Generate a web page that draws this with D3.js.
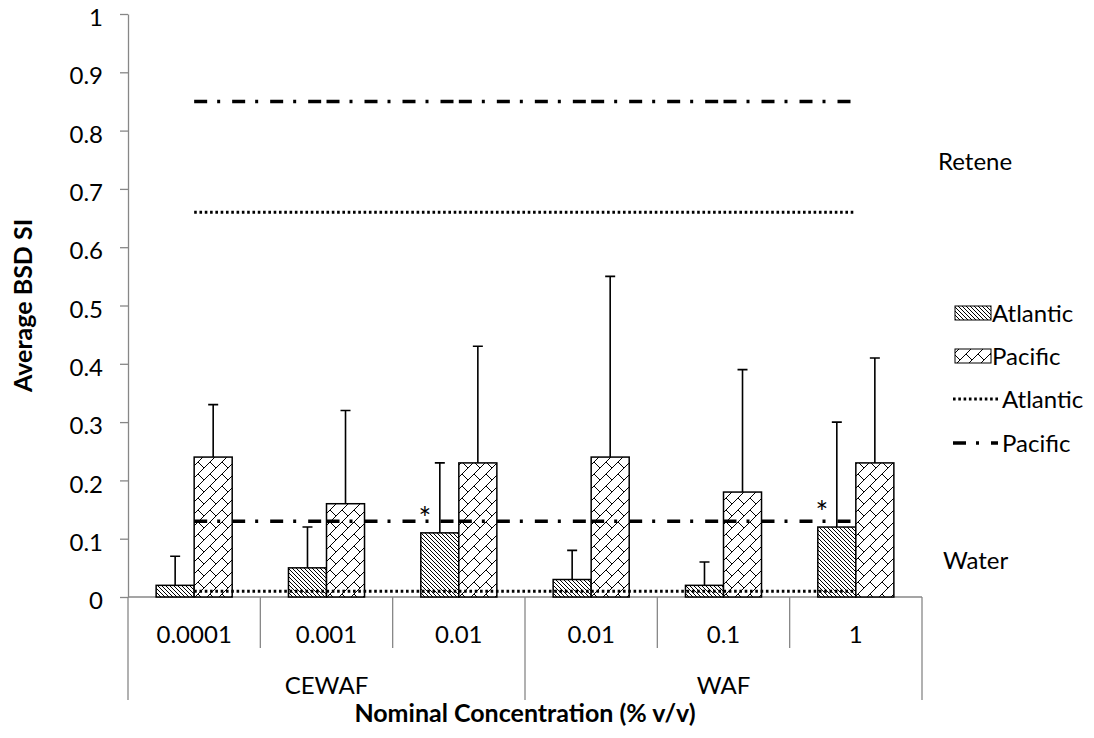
<!DOCTYPE html>
<html>
<head>
<meta charset="utf-8">
<script src="https://cdn.jsdelivr.net/npm/d3@7"></script>
<style>
  body { margin: 0; background: #fff; }
  svg { font-family: Lato, 'Open Sans', sans-serif; }
  text { fill: #000; }
</style>
</head>
<body>
<script>
const concentrations = ['0.0001', '0.001', '0.01', '0.01', '0.1', '1'];
const groupNames = ['CEWAF', 'WAF'];
const groupOf = [0, 0, 0, 1, 1, 1];

const atlantic = [0.02, 0.05, 0.11, 0.03, 0.02, 0.12];
const pacific = [0.24, 0.16, 0.23, 0.24, 0.18, 0.23];
const atlanticErr = [0.05, 0.07, 0.12, 0.05, 0.04, 0.18];
const pacificErr = [0.09, 0.16, 0.20, 0.31, 0.21, 0.18];
const significant = ['', '', '*', '', '', '*'];

// control levels, repeated for each concentration
const reteneAtlantic = [0.66, 0.66, 0.66, 0.66, 0.66, 0.66];
const retenePacific = [0.85, 0.85, 0.85, 0.85, 0.85, 0.85];
const waterAtlantic = [0.01, 0.01, 0.01, 0.01, 0.01, 0.01];
const waterPacific = [0.13, 0.13, 0.13, 0.13, 0.13, 0.13];

const yTicks = [0, 0.1, 0.2, 0.3, 0.4, 0.5, 0.6, 0.7, 0.8, 0.9, 1];

const width = 1094;
const height = 738;
const plot = { left: 128, right: 922, top: 14, bottom: 597 };
const axisGrey = '#878787';
const fontSize = 24;

const svg = d3.select('body')
  .append('svg')
  .attr('width', width)
  .attr('height', height);

// fill patterns
const defs = svg.append('defs');

const hatch = defs.append('pattern')
  .attr('id', 'hatch')
  .attr('patternUnits', 'userSpaceOnUse')
  .attr('width', 4)
  .attr('height', 4);
hatch.append('rect').attr('width', 4).attr('height', 4).attr('fill', '#fff');
hatch.append('path')
  .attr('d', 'M-1,-1 L5,5 M-1,3 L1,5 M3,-1 L5,1')
  .attr('stroke', '#000')
  .attr('stroke-width', 1);

const brick = defs.append('pattern')
  .attr('id', 'brick')
  .attr('patternUnits', 'userSpaceOnUse')
  .attr('width', 12)
  .attr('height', 12);
brick.append('rect').attr('width', 12).attr('height', 12).attr('fill', '#fff');
brick.append('path')
  .attr('d', 'M-1,13 L13,-1 M6,6 L13,13')
  .attr('stroke', '#000')
  .attr('stroke-width', 1);

const xScale = d3.scaleBand()
  .domain(d3.range(concentrations.length))
  .range([plot.left, plot.right]);

const x1 = d3.scaleBand()
  .domain(['Atlantic', 'Pacific'])
  .range([0, xScale.bandwidth()])
  .paddingOuter(0.74);

const yScale = d3.scaleLinear()
  .domain([0, 1])
  .range([plot.bottom, plot.top]);

// y axis
const yAxis = d3.axisLeft(yScale)
  .tickValues(yTicks)
  .tickFormat(d => String(d))
  .tickSize(8)
  .tickSizeOuter(0)
  .tickPadding(17);

const yg = svg.append('g')
  .attr('transform', `translate(${plot.left},0)`)
  .call(yAxis);
yg.selectAll('path, line').attr('stroke', axisGrey).attr('stroke-width', 1.3);
yg.selectAll('text')
  .attr('fill', '#000')
  .attr('y', 4)
  .style('font-size', fontSize + 'px')
  .style('font-family', 'Lato, sans-serif');

// x axis: two-level category axis
const xg = svg.append('g').attr('class', 'x axis');
xg.append('line')
  .attr('x1', plot.left).attr('x2', plot.right)
  .attr('y1', plot.bottom).attr('y2', plot.bottom)
  .attr('stroke', axisGrey).attr('stroke-width', 1.3);

const edges = d3.range(concentrations.length + 1);
xg.selectAll('.divider').data(edges)
  .enter()
  .append('line')
  .attr('class', 'divider')
  .attr('x1', i => i < concentrations.length ? xScale(i) : plot.right)
  .attr('x2', i => i < concentrations.length ? xScale(i) : plot.right)
  .attr('y1', plot.bottom)
  .attr('y2', i => (i === 0 || i === concentrations.length || groupOf[i] !== groupOf[i - 1]) ? 700 : 648)
  .attr('stroke', axisGrey).attr('stroke-width', 1.3);

xg.selectAll('.cat').data(concentrations)
  .enter()
  .append('text')
  .attr('class', 'cat')
  .attr('x', (d, i) => xScale(i) + xScale.bandwidth() / 2)
  .attr('y', 634)
  .attr('dy', '0.36em')
  .style('text-anchor', 'middle')
  .style('font-size', fontSize + 'px')
  .text(d => d);

xg.selectAll('.grp').data(groupNames)
  .enter()
  .append('text')
  .attr('class', 'grp')
  .attr('x', (d, g) => {
    const idx = groupOf.map((v, i) => v === g ? i : -1).filter(i => i >= 0);
    return (xScale(idx[0]) + xScale(idx[idx.length - 1]) + xScale.bandwidth()) / 2;
  })
  .attr('y', 685)
  .attr('dy', '0.36em')
  .style('text-anchor', 'middle')
  .style('font-size', fontSize + 'px')
  .text(d => d);

// axis titles
svg.append('text')
  .attr('x', (plot.left + plot.right) / 2)
  .attr('y', 713)
  .attr('dy', '0.36em')
  .style('text-anchor', 'middle')
  .style('font-size', '25px')
  .style('font-weight', 'bold')
  .text('Nominal Concentration (% v/v)');

svg.append('text')
  .attr('transform', `translate(23, ${(plot.top + plot.bottom) / 2}) rotate(-90)`)
  .attr('dy', '0.36em')
  .style('text-anchor', 'middle')
  .style('font-size', '25px')
  .style('font-weight', 'bold')
  .text('Average BSD SI');

// bars
const cats = d3.range(concentrations.length);
const bars = [
  { name: 'Atlantic', values: atlantic, err: atlanticErr, fill: 'url(#hatch)' },
  { name: 'Pacific', values: pacific, err: pacificErr, fill: 'url(#brick)' }
];

bars.forEach(s => {
  const g = svg.append('g').attr('class', 'bars ' + s.name);
  g.selectAll('.err').data(cats)
    .enter()
    .append('path')
    .attr('class', 'err')
    .attr('d', i => {
      const cx = xScale(i) + x1(s.name) + x1.bandwidth() / 2;
      const yt = yScale(s.values[i] + s.err[i]);
      return `M${cx},${yScale(s.values[i])} V${yt} M${cx - 5},${yt} H${cx + 5}`;
    })
    .attr('stroke', '#000')
    .attr('stroke-width', 1.6)
    .attr('fill', 'none');
  g.selectAll('.bar').data(cats)
    .enter()
    .append('rect')
    .attr('class', 'bar')
    .attr('x', i => xScale(i) + x1(s.name))
    .attr('width', x1.bandwidth())
    .attr('y', i => yScale(s.values[i]))
    .attr('height', i => plot.bottom - yScale(s.values[i]))
    .attr('fill', s.fill)
    .attr('stroke', '#000')
    .attr('stroke-width', 1.5);
});

// significance marks
svg.selectAll('.sig').data(cats.filter(i => significant[i]))
  .enter()
  .append('text')
  .attr('class', 'sig')
  .attr('x', i => xScale(i) + x1('Atlantic') + x1.bandwidth() / 2 - 15)
  .attr('y', i => yScale(atlantic[i]) - 4)
  .attr('fill', '#000')
  .style('text-anchor', 'middle')
  .style('font-size', '30px')
  .text(i => significant[i]);

// control lines, drawn segment by segment
const lineStyles = [
  { values: reteneAtlantic, dash: '2.6,2.7', w: 3 },
  { values: waterAtlantic, dash: '2.6,2.7', w: 3 },
  { values: retenePacific, dash: '13,10,3,12', w: 3.5 },
  { values: waterPacific, dash: '13,10,3,12', w: 3.5 }
];
const cx = i => xScale(i) + xScale.bandwidth() / 2;
const line = d3.line().x(d => cx(d.i)).y(d => yScale(d.v));

lineStyles.forEach(ls => {
  const segs = d3.pairs(ls.values.map((v, i) => ({ i, v })));
  svg.append('g').selectAll('path').data(segs)
    .enter()
    .append('path')
    .attr('d', line)
    .attr('fill', 'none')
    .attr('stroke', '#000')
    .attr('stroke-width', ls.w)
    .attr('stroke-dasharray', ls.dash);
});

// side labels
svg.append('text').attr('x', 938).attr('y', 161).attr('dy', '0.36em')
  .style('font-size', fontSize + 'px').text('Retene');
svg.append('text').attr('x', 943).attr('y', 560).attr('dy', '0.36em')
  .style('font-size', fontSize + 'px').text('Water');

// legend
const legend = [
  { label: 'Atlantic', type: 'box', fill: 'url(#hatch)', y: 313 },
  { label: 'Pacific', type: 'box', fill: 'url(#brick)', y: 356 },
  { label: 'Atlantic', type: 'line', dash: '2.6,2.7', w: 3, y: 399 },
  { label: 'Pacific', type: 'line', dash: '13,10,3,12', w: 3.5, y: 443 }
];
const lg = svg.append('g').attr('class', 'legend');
legend.forEach(d => {
  if (d.type === 'box') {
    lg.append('rect')
      .attr('x', 955).attr('y', d.y - 7)
      .attr('width', 36).attr('height', 14)
      .attr('fill', d.fill)
      .attr('stroke', '#000').attr('stroke-width', 1);
    lg.append('text').attr('x', 992).attr('y', d.y).attr('dy', '0.36em')
      .style('font-size', fontSize + 'px').text(d.label);
  } else {
    lg.append('line')
      .attr('x1', 953).attr('x2', 998)
      .attr('y1', d.y).attr('y2', d.y)
      .attr('stroke', '#000').attr('stroke-width', d.w)
      .attr('stroke-dasharray', d.dash);
    lg.append('text').attr('x', 1002).attr('y', d.y).attr('dy', '0.36em')
      .style('font-size', fontSize + 'px').text(d.label);
  }
});
</script>
</body>
</html>
